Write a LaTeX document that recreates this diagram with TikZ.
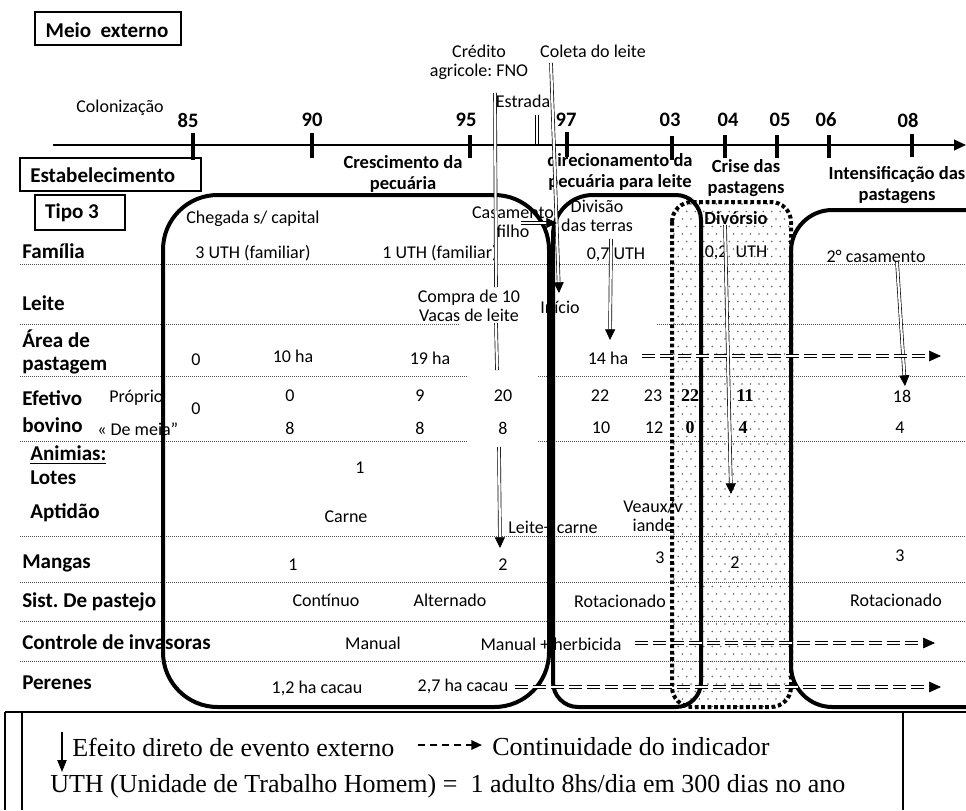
\documentclass[tikz,border=0pt]{standalone}
\usepackage{fontspec}
\setmainfont{Carlito}
\newfontfamily\serifface{Liberation Serif}
\usetikzlibrary{arrows.meta}
\frenchspacing

\begin{document}
\begin{tikzpicture}[x=0.75pt,y=-0.75pt,
  reg/.style={font=\fontsize{13.5}{14.3}\selectfont, inner sep=0pt, align=center},
  lab/.style={font=\fontsize{15.8}{17.5}\selectfont\bfseries, inner sep=0pt, anchor=west, align=left},
  yr/.style={font=\fontsize{15.4}{17}\selectfont\bfseries, inner sep=0pt},
  sec/.style={font=\fontsize{13.9}{15.8}\selectfont\bfseries, inner sep=0pt, align=center},
  bnum/.style={font=\fontsize{13.5}{15}\selectfont\serifface\bfseries, inner sep=0pt},
  leg/.style={font=\fontsize{19.5}{22}\selectfont\serifface, inner sep=0pt, anchor=west},
  tagbox/.style={draw, line width=0.8pt},
  rowline/.style={draw=black!70, line width=0.6pt, dash pattern=on 0.6pt off 0.9pt},
  bigbox/.style={line width=3pt},
  dotborder/.style={line width=3pt, dash pattern=on 2.8pt off 2pt},
  tick/.style={line width=2.6pt},
  dbl/.style={draw=black, double=white, line width=0.5pt, double distance=1.7pt},
  dblarrow/.style={dbl, -{Triangle[length=8pt,width=7.5pt]}},
  cont/.style={dbl, dash pattern=on 10pt off 3.5pt, -{Triangle[length=9pt,width=8pt]}},
]
\useasboundingbox (0,0) rectangle (966,810);
\fill[white] (0,0) rectangle (966,810);

% ---------- dotted row separators ----------
\draw[rowline] (20,264) -- (966,264);
\draw[rowline] (20,324) -- (460,324);
\draw[rowline] (657,324) -- (966,324);
\draw[rowline] (20,376) -- (468,376);
\draw[rowline] (538,376) -- (966,376);
\draw[rowline] (20,441) -- (468,441);
\draw[rowline] (538,441) -- (966,441);
\draw[rowline] (20,536) -- (966,536);
\draw[rowline] (20,582) -- (966,582);
\draw[rowline] (20,621) -- (966,621);
\draw[rowline] (20,661) -- (966,661);

% ---------- stippled period (crisis) ----------
\begin{scope}
  \clip[rounded corners=15pt] (672,202) rectangle (791,707);
  \foreach \r in {0,...,67} {
    \pgfmathsetmacro\yy{204+7.5*\r}
    \pgfmathsetmacro\xo{mod(\r,2)*4.25}
    \foreach \c in {0,...,14} {
      \fill[black!60] ({674+\xo+8.5*\c},\yy) circle (0.6pt);
    }
  }
\end{scope}

% ---------- timeline ----------
\coordinate (tl0) at (53,145);
\coordinate (tl1) at (966,145);
\draw[line width=1.5pt, -{Triangle[length=9pt,width=8pt]}] (tl0) -- (tl1);
\foreach \x/\a/\b in {193/133/160, 312/133/158, 470/135/158, 567/132/157,
                      672/136/160, 725/135/158, 777/135/158, 829/135/158, 912/134/157}
  \draw[tick] (\x,\a) -- (\x,\b);
\foreach \x/\n in {188/85, 312/90, 466/95, 566/97, 670/03, 728/04, 780/05, 826/06, 908/08}
  \node[yr] (y\n) at (\x,120) {\n};

% ---------- header boxes ----------
\draw[tagbox] (35,12) rectangle (181,45);
\node[lab, anchor=center] (meiot) at (107,30) {Meio\ \ externo};
\draw[tagbox] (20,158) rectangle (201,191);
\node[lab] (estab) at (30,175) {Estabelecimento};
\draw[tagbox] (35,195) rectangle (125,230);
\node[lab, anchor=center] (tipo) at (72,213) {Tipo 3};

% ---------- external events ----------
\node[reg] (colon) at (120,108) {Colonização};
\node[reg] (cred) at (479,62) {Crédito\\agricole: FNO};
\node[reg] (coleta) at (593,51) {Coleta do leite};
\node[reg] (estr) at (523,101) {Estrada};

% ---------- period titles ----------
\node[sec] (p1) at (403,174) {Crescimento da\\pecuária};
\node[sec] (p2) at (620,172) {direcionamento da\\pecuária para leite};
\node[sec] (p3) at (746,178) {Crise das\\pastagens};
\node[sec] (p4) at (897,185) {Intensificação das\\pastagens};

% ---------- row labels ----------
\node[lab] (rfam) at (22,251) {Família};
\node[lab] (rlei) at (22,303) {Leite};
\node[lab] (rare) at (22,352) {Área de\\pastagem};
\node[lab] (ref1) at (22,398) {Efetivo};
\node[lab] (ref2) at (22,425) {bovino};
\node[lab] (rani) at (30,455) {\underline{Animias:}};
\node[lab] (rlot) at (30,478) {Lotes};
\node[lab] (rapt) at (30,513) {Aptidão};
\node[lab] (rman) at (22,563) {Mangas};
\node[lab] (rsis) at (22,602) {Sist. De pastejo};
\node[lab] (rcon) at (22,642) {Controle de invasoras};
\node[lab] (rper) at (22,683) {Perenes};

% ---------- cell contents ----------
\node[reg] (cheg) at (253,219) {Chegada s/ capital};
\node[reg] (fam1) at (253,253) {3 UTH (familiar)};
\node[reg] (fam2) at (440,253) {1 UTH (familiar)};
\node[reg] (casf) at (513,222) {Casamento\\filho};
\node[reg] (divt) at (597,216) {Divisão\\das terras};
\node[reg] (fam3) at (616,255) {0,7 UTH};
\node[reg] (fam4) at (736,253) {0,2\ \ UTH};
\node[sec] (divo) at (736,218) {Divórsio};
\node[reg] (cas2) at (876,256) {2° casamento};
\node[reg] (comp) at (469,306) {Compra de 10\\Vacas de leite};
\node[reg] (inic) at (560,307) {Início};

\node[reg] (a0) at (196,360) {0};
\node[reg] (a1) at (293,356) {10 ha};
\node[reg] (a2) at (430,358) {19 ha};
\node[reg] (a3) at (608,358) {14 ha};

\node[reg, anchor=west] (prop) at (109,398) {Próprio};
\node[reg, anchor=west] (meia) at (97,429) {« De meia\symbol{34}};
\node[reg] (ef0) at (196,409) {0};
\foreach \x/\t [count=\i] in {290/0, 420/9, 503/20, 600/22, 653/23, 902/18}
  \node[reg] (pr\i) at (\x,396) {\t};
\foreach \x/\t [count=\i] in {290/8, 420/8, 503/8, 601/10, 654/12, 900/4}
  \node[reg] (dm\i) at (\x,428) {\t};
\node[bnum] (bp1) at (690,396) {22};
\node[bnum] (bp2) at (745,396) {11};
\node[bnum] (bd1) at (690,428) {0};
\node[bnum] (bd2) at (743,428) {4};

\node[reg] (lot1) at (360,468) {1};
\node[reg] (apt1) at (346,517) {Carne};
\node[reg] (apt2) at (553,527) {Leite+ carne};
\node[reg] (apt3) at (653,516) {Veaux/v\\iande};

\node[reg] (m1) at (293,565) {1};
\node[reg] (m2) at (503,565) {2};
\node[reg] (m3) at (660,558) {3};
\node[reg] (m4) at (735,563) {2};
\node[reg] (m5) at (900,556) {3};

\node[reg] (s1) at (326,600) {Contínuo};
\node[reg] (s2) at (450,600) {Alternado};
\node[reg] (s3) at (620,601) {Rotacionado};
\node[reg] (s4) at (896,600) {Rotacionado};

\node[reg] (c1) at (373,643) {Manual};
\node[reg] (c2) at (551,644) {Manual + herbicida};

\node[reg] (pe1) at (317,688) {1,2 ha cacau};
\node[reg] (pe2) at (463,686) {2,7 ha cacau};

% ---------- period frames ----------
\draw[bigbox, rounded corners=41pt] (163,195) rectangle (549,707);
\draw[bigbox] (553,450) -- (553,235) arc[start angle=180,end angle=270,radius=40]
  -- (676,195) arc[start angle=270,end angle=360,radius=25]
  -- (701,682) arc[start angle=0,end angle=90,radius=25]
  -- (578,707) arc[start angle=90,end angle=180,radius=25] -- cycle;
\draw[dotborder, rounded corners=15pt] (672,202) rectangle (791,707);
\draw[bigbox, rounded corners=31pt] (1000,707) -- (791,707) -- (791,210) -- (1000,210);

% ---------- effects of external events ----------
\coordinate (credA) at (495,93);
\coordinate (credB) at (496,287);
\coordinate (credC) at (496,323);
\coordinate (credD) at (497,370);
\coordinate (credE) at (499,447);
\coordinate (credF) at (500,548);
\draw[dbl] (credA) -- (credB);
\draw[dbl] (credC) -- (credD);
\draw[dblarrow] (credE) -- (credF);

\coordinate (estA) at (537,115);
\coordinate (estB) at (537,144);
\draw[dbl] (estA) -- (estB);

\coordinate (colA) at (551,63);
\coordinate (colB) at (559,293);
\draw[dblarrow] (colA) -- (colB);

\coordinate (casA) at (521,223);
\coordinate (casB) at (557,223);
\draw[dblarrow] (casA) -- (casB);

\coordinate (divA) at (611,239);
\coordinate (divB) at (610,340);
\draw[dblarrow] (divA) -- (divB);

\coordinate (dvoA) at (725,225);
\coordinate (dvoB) at (731,494);
\draw[dblarrow] (dvoA) -- (dvoB);

\coordinate (c2A) at (897,262);
\coordinate (c2B) at (905,386);
\draw[dblarrow] (c2A) -- (c2B);

% ---------- continuity of indicators ----------
\coordinate (k1a) at (642,356);
\coordinate (k1b) at (941,356);
\draw[cont] (k1a) -- (k1b);
\coordinate (k2a) at (635,643);
\coordinate (k2b) at (935,643);
\draw[cont] (k2a) -- (k2b);
\coordinate (k3a) at (515,687);
\coordinate (k3b) at (941,687);
\draw[cont] (k3a) -- (k3b);

% ---------- legend ----------
\draw[line width=1.1pt] (5,712) -- (966,712);
\draw[line width=1.1pt] (5,712) -- (5,810);
\draw[line width=1.1pt] (22,712) -- (22,810);
\draw[line width=1.1pt] (903,712) -- (903,810);
\coordinate (lgA) at (62,732);
\coordinate (lgB) at (62,772);
\draw[line width=0.8pt, -{Triangle[length=9pt,width=7pt]}] (lgA) -- (lgB);
\node[leg] (lg1) at (72,747) {Efeito direto de evento externo};
\coordinate (lgC) at (418,745);
\coordinate (lgD) at (482,745);
\draw[line width=1.5pt, dash pattern=on 5pt off 4pt, -{Triangle[length=8pt,width=7pt]}] (lgC) -- (lgD);
\node[leg] (lg2) at (492,747) {Continuidade do indicador};
\node[leg] (lg3) at (50,786) {UTH (Unidade de Trabalho Homem) =\ \ 1 adulto 8hs/dia em 300 dias no ano};
\end{tikzpicture}
\end{document}
